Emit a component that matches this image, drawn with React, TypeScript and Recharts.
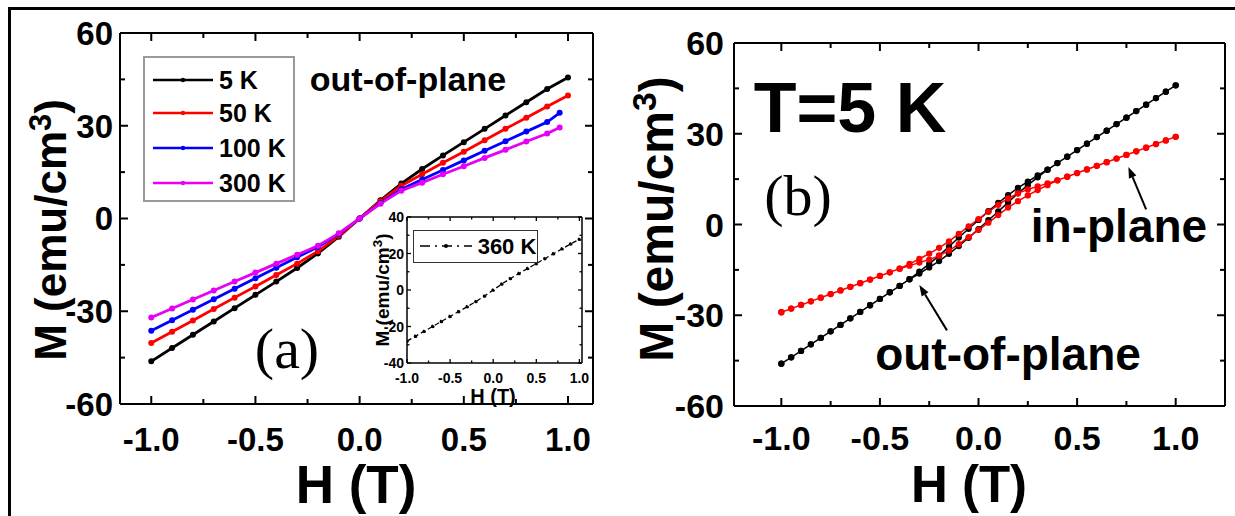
import React from "react";
import { LineChart, Line, XAxis, YAxis, ReferenceLine } from "recharts";

// ---- panel (a): out-of-plane M(H) at several temperatures ----
const fieldA = [-1.0, -0.9, -0.8, -0.7, -0.6, -0.5, -0.4, -0.3, -0.2, -0.1, 0, 0.1, 0.2, 0.3, 0.4, 0.5, 0.6, 0.7, 0.8, 0.9, 1.0];
const fieldAShort = [-1.0, -0.9, -0.8, -0.7, -0.6, -0.5, -0.4, -0.3, -0.2, -0.1, 0, 0.1, 0.2, 0.3, 0.4, 0.5, 0.6, 0.7, 0.8, 0.9, 0.96];
const m5K = [-46.2, -41.9, -37.6, -33.3, -29.0, -24.7, -20.4, -16.0, -11.3, -5.9, 0, 5.9, 11.3, 16.0, 20.4, 24.7, 29.0, 33.3, 37.6, 41.9, 45.6];
const m50K = [-40.3, -36.6, -33.0, -29.3, -25.6, -22.0, -18.3, -14.6, -10.6, -5.6, 0, 5.6, 10.6, 14.3, 18.0, 21.6, 25.3, 29.0, 32.6, 36.2, 39.8];
const m100K = [-36.3, -32.9, -29.5, -26.1, -22.7, -19.3, -15.9, -12.5, -9.2, -5.0, 0, 5.0, 9.5, 12.6, 15.7, 18.8, 21.9, 25.0, 28.1, 31.2, 34.2];
const m300K = [-32.0, -29.1, -26.2, -23.3, -20.4, -17.5, -14.6, -11.7, -8.8, -4.8, 0, 4.8, 9.0, 11.6, 14.3, 16.9, 19.6, 22.2, 24.9, 27.5, 29.4];
const tempsA = ["5 K", "50 K", "100 K", "300 K"];
const colorsA = ["#000000", "#ff0000", "#0000ff", "#e600f5"];

// inset: 360 K
const m360K = [-28.0, -25.3, -22.6, -19.9, -17.2, -14.5, -11.8, -9.1, -6.3, -3.3, 0, 3.3, 6.3, 9.1, 11.8, 14.5, 17.2, 19.9, 22.6, 25.3, 27.8];

// ---- panel (b): T = 5 K, out-of-plane vs in-plane loops ----
const fieldB = [-1.0, -0.95, -0.9, -0.85, -0.8, -0.75, -0.7, -0.65, -0.6, -0.55, -0.5, -0.45, -0.4, -0.35, -0.3, -0.25, -0.2, -0.15, -0.1, -0.05, 0, 0.05, 0.1, 0.15, 0.2, 0.25, 0.3, 0.35, 0.4, 0.45, 0.5, 0.55, 0.6, 0.65, 0.7, 0.75, 0.8, 0.85, 0.9, 0.95, 1.0];
const outDown = [-46.0, -43.9, -41.8, -39.6, -37.5, -35.3, -33.2, -31.0, -28.9, -26.7, -24.6, -22.4, -20.3, -18.1, -15.6, -13.0, -10.3, -7.3, -4.3, -1.4, 1.5, 4.4, 7.1, 9.7, 12.1, 14.2, 16.2, 18.1, 20.3, 22.4, 24.6, 26.7, 28.9, 31.0, 33.2, 35.3, 37.5, 39.6, 41.8, 43.9, 46.0];
const outUp = [-46.0, -43.9, -41.8, -39.6, -37.5, -35.3, -33.2, -31.0, -28.9, -26.7, -24.6, -22.4, -20.3, -18.1, -16.2, -14.2, -12.1, -9.7, -7.1, -4.4, -1.5, 1.4, 4.3, 7.3, 10.3, 13.0, 15.6, 18.1, 20.3, 22.4, 24.6, 26.7, 28.9, 31.0, 33.2, 35.3, 37.5, 39.6, 41.8, 43.9, 46.0];
const inDown = [-29.0, -27.8, -26.6, -25.4, -24.2, -23.0, -21.8, -20.6, -19.4, -18.2, -17.0, -15.8, -14.6, -13.0, -11.4, -9.6, -7.7, -5.6, -3.1, -0.6, 1.8, 4.2, 6.5, 8.6, 10.3, 11.6, 12.6, 13.6, 14.6, 15.8, 17.0, 18.2, 19.4, 20.6, 21.8, 23.0, 24.2, 25.4, 26.6, 27.8, 29.0];
const inUp = [-29.0, -27.8, -26.6, -25.4, -24.2, -23.0, -21.8, -20.6, -19.4, -18.2, -17.0, -15.8, -14.6, -13.6, -12.6, -11.6, -10.3, -8.6, -6.5, -4.2, -1.8, 0.6, 3.1, 5.6, 7.7, 9.6, 11.4, 13.0, 14.6, 15.8, 17.0, 18.2, 19.4, 20.6, 21.8, 23.0, 24.2, 25.4, 26.6, 27.8, 29.0];

// ticks
const xTicks = [-1, -0.75, -0.5, -0.25, 0, 0.25, 0.5, 0.75, 1];
const yTicks = [-60, -45, -30, -15, 0, 15, 30, 45, 60];
const yTicksInset = [-40, -30, -20, -10, 0, 10, 20, 30, 40];

const FONT = '"Liberation Sans", Arial, Helvetica, sans-serif';
const SERIF = '"Liberation Serif", "Times New Roman", serif';

const pts = (h: number[], m: number[]) => h.map((v, i) => ({ h: v, m: m[i] }));
const loop = (h: number[], down: number[], up: number[]) => [...pts(h, down).reverse(), ...pts(h, up)];

const seriesA = [m5K, m50K, m100K, m300K].map((m, i) => pts(i < 2 ? fieldA : fieldAShort, m));
const outLoop = loop(fieldB, outDown, outUp);
const inLoop = loop(fieldB, inDown, inUp);

const isHalf = (v: number) => Math.abs(v * 2 - Math.round(v * 2)) < 1e-9;

type Side = "bottom" | "top" | "left" | "right";
type TickOpts = {
  major: (v: number) => boolean;
  long: number;
  short: number;
  label?: (v: number) => string;
  size?: number;
  gap?: number;
  sw?: number;
};

function tick(side: Side, o: TickOpts) {
  return (props: any) => {
    const { x, y, payload } = props;
    const v = payload.value as number;
    const major = o.major(v);
    const len = major ? o.long : o.short;
    let x2 = x, y2 = y;
    if (side === "bottom") y2 = y - len;
    if (side === "top") y2 = y + len;
    if (side === "left") x2 = x + len;
    if (side === "right") x2 = x - len;
    const fs = o.size || 0;
    let text = null;
    if (major && o.label) {
      const gap = o.gap || 0;
      if (side === "bottom") {
        text = (
          <text x={x} y={y + gap + fs * 0.36} textAnchor="middle" fontSize={fs} fontWeight="bold" fontFamily={FONT} fill="#000">
            {o.label(v)}
          </text>
        );
      } else if (side === "left") {
        text = (
          <text x={x - gap} y={y + fs * 0.36} textAnchor="end" fontSize={fs} fontWeight="bold" fontFamily={FONT} fill="#000">
            {o.label(v)}
          </text>
        );
      }
    }
    return (
      <g>
        <line x1={x} y1={y} x2={x2} y2={y2} stroke="#000" strokeWidth={o.sw || 2} />
        {text}
      </g>
    );
  };
}

function Arrow(props: any) {
  const { x1, y1, x2, y2 } = props;
  const a = Math.atan2(y2 - y1, x2 - x1);
  const L = 11, W = 4;
  const bx = x2 - L * Math.cos(a), by = y2 - L * Math.sin(a);
  const nx = -Math.sin(a) * W, ny = Math.cos(a) * W;
  return (
    <g>
      <line x1={x1} y1={y1} x2={bx} y2={by} stroke="#000" strokeWidth={2} />
      <polygon points={`${x2},${y2} ${bx + nx},${by + ny} ${bx - nx},${by - ny}`} fill="#000" />
    </g>
  );
}

function Txt({ x, y, size, children, serif, rotate, weight }: any) {
  return (
    <div
      style={{
        position: "absolute",
        left: x,
        top: y,
        transform: `translate(-50%, -50%)${rotate ? ` rotate(${rotate}deg)` : ""}`,
        fontFamily: serif ? SERIF : FONT,
        fontWeight: weight || (serif ? "normal" : "bold"),
        fontSize: size,
        lineHeight: 0.9,
        whiteSpace: "nowrap",
        color: "#000",
      }}
    >
      {children}
    </div>
  );
}

function MTitle() {
  return (
    <span>
      M{"\u00a0"}(emu/cm<sup style={{ fontSize: "0.7em", lineHeight: 0 }}>3</sup>)
    </span>
  );
}

const axisLine = { stroke: "#000", strokeWidth: 2 };
const fmtX = (v: number) => v.toFixed(1);
const fmtY = (v: number) => String(v);

export default function App() {
  return (
    <div style={{ position: "absolute", left: 0, top: 0, width: 1235, height: 516, background: "#fff", overflow: "hidden" }}>
      {/* frame */}
      <div style={{ position: "absolute", left: 8, top: 7, width: 1227, height: 509, borderTop: "3px solid #000", borderLeft: "3px solid #000" }} />

      {/* panel (a) */}
      <div style={{ position: "absolute", left: 0, top: 0 }}>
        <LineChart width={620} height={516} margin={{ top: 32, right: 0, bottom: 0, left: 0 }}>
          <XAxis xAxisId="x" type="number" dataKey="h" domain={[-1.15, 1.12]} allowDataOverflow ticks={xTicks} interval={0}
            tickSize={0} tickMargin={0} height={112} axisLine={axisLine} tickLine={false}
            tick={tick("bottom", { major: isHalf, long: 8, short: 5, label: fmtX, size: 33, gap: 35 })} />
          <XAxis xAxisId="xt" orientation="top" type="number" dataKey="h" domain={[-1.15, 1.12]} allowDataOverflow ticks={xTicks} interval={0}
            tickSize={0} tickMargin={0} height={1} axisLine={axisLine} tickLine={false}
            tick={tick("top", { major: isHalf, long: 8, short: 5 })} />
          <YAxis yAxisId="y" type="number" domain={[-60, 60]} allowDataOverflow ticks={yTicks} interval={0}
            tickSize={0} tickMargin={0} width={120} axisLine={axisLine} tickLine={false}
            tick={tick("left", { major: (v) => v % 30 === 0, long: 8, short: 5, label: fmtY, size: 33, gap: 7 })} />
          <YAxis yAxisId="yr" orientation="right" type="number" domain={[-60, 60]} allowDataOverflow ticks={yTicks} interval={0}
            tickSize={0} tickMargin={0} width={27} axisLine={axisLine} tickLine={false}
            tick={tick("right", { major: (v) => v % 30 === 0, long: 8, short: 5 })} />
          {seriesA.map((d, i) => (
            <Line key={tempsA[i]} xAxisId="x" yAxisId="y" data={d} dataKey="m" name={tempsA[i]} type="linear"
              stroke={colorsA[i]} strokeWidth={2.8} dot={{ r: 1.6, fill: colorsA[i], stroke: colorsA[i] }} isAnimationActive={false} />
          ))}
        </LineChart>
      </div>

      {/* legend (a) */}
      <div style={{ position: "absolute", left: 143, top: 56, width: 148, height: 142, border: "2px solid #9a9a9a" }} />
      {tempsA.map((t, i) => (
        <div key={t} style={{ position: "absolute", left: 150, top: [80, 113, 148, 183][i] - 14, height: 28, display: "flex", alignItems: "center" }}>
          <svg width={66} height={28}>
            <line x1={3} y1={14} x2={63} y2={14} stroke={colorsA[i]} strokeWidth={2.5} />
            <circle cx={33} cy={14} r={2.2} fill={colorsA[i]} />
          </svg>
          <span style={{ fontFamily: FONT, fontWeight: "bold", fontSize: 25, marginLeft: 3 }}>{t}</span>
        </div>
      ))}

      {/* inset */}
      <div style={{ position: "absolute", left: 360, top: 205 }}>
        <LineChart width={230} height={200} margin={{ top: 11, right: 0, bottom: 0, left: 0 }}>
          <XAxis xAxisId="x" type="number" dataKey="h" domain={[-1, 1.03]} allowDataOverflow ticks={xTicks} interval={0}
            tickSize={0} tickMargin={0} height={42} axisLine={{ stroke: "#000", strokeWidth: 1.5 }} tickLine={false}
            tick={tick("bottom", { major: isHalf, long: 4, short: 2.5, label: fmtX, size: 14, gap: 15, sw: 1.3 })} />
          <XAxis xAxisId="xt" orientation="top" type="number" dataKey="h" domain={[-1, 1.03]} allowDataOverflow ticks={xTicks} interval={0}
            tickSize={0} tickMargin={0} height={1} axisLine={{ stroke: "#000", strokeWidth: 1.5 }} tickLine={false}
            tick={tick("top", { major: isHalf, long: 4, short: 2.5, sw: 1.3 })} />
          <YAxis yAxisId="y" type="number" domain={[-40, 40]} allowDataOverflow ticks={yTicksInset} interval={0}
            tickSize={0} tickMargin={0} width={47} axisLine={{ stroke: "#000", strokeWidth: 1.5 }} tickLine={false}
            tick={tick("left", { major: (v) => v % 20 === 0, long: 4, short: 2.5, label: fmtY, size: 14, gap: 3, sw: 1.3 })} />
          <YAxis yAxisId="yr" orientation="right" type="number" domain={[-40, 40]} allowDataOverflow ticks={yTicksInset} interval={0}
            tickSize={0} tickMargin={0} width={8} axisLine={{ stroke: "#000", strokeWidth: 1.5 }} tickLine={false}
            tick={tick("right", { major: (v) => v % 20 === 0, long: 4, short: 2.5, sw: 1.3 })} />
          <Line xAxisId="x" yAxisId="y" data={pts(fieldA, m360K)} dataKey="m" name="360 K" type="linear"
            stroke="#000" strokeWidth={1.3} strokeDasharray="5 3" dot={{ r: 1.2, fill: "#000", stroke: "#000" }} isAnimationActive={false} />
        </LineChart>
      </div>
      <div style={{ position: "absolute", left: 413, top: 230, width: 123, height: 31, border: "1.5px solid #333" }} />
      <svg style={{ position: "absolute", left: 418, top: 236 }} width={56} height={20}>
        <line x1={2} y1={10} x2={54} y2={10} stroke="#000" strokeWidth={1.3} strokeDasharray="10 5 2 5" />
        <circle cx={28} cy={10} r={2} fill="#000" />
      </svg>
      <Txt x={507} y={247} size={22}>360 K</Txt>
      <Txt x={493} y={396} size={20}>H (T)</Txt>
      <Txt x={383} y={290} size={19} rotate={-90}><MTitle /></Txt>

      <Txt x={408} y={79} size={34}>out-of-plane</Txt>
      <Txt x={287} y={349} size={58} serif>(a)</Txt>
      <Txt x={356} y={485} size={53}>H (T)</Txt>
      <Txt x={51} y={230} size={44} rotate={-90}><MTitle /></Txt>

      {/* panel (b) */}
      <div style={{ position: "absolute", left: 620, top: 0 }}>
        <LineChart width={615} height={516} margin={{ top: 42, right: 0, bottom: 0, left: 0 }}>
          <XAxis xAxisId="x" type="number" dataKey="h" domain={[-1.24, 1.25]} allowDataOverflow ticks={xTicks} interval={0}
            tickSize={0} tickMargin={0} height={110} axisLine={axisLine} tickLine={false}
            tick={tick("bottom", { major: isHalf, long: 8, short: 5, label: fmtX, size: 34, gap: 32 })} />
          <XAxis xAxisId="xt" orientation="top" type="number" dataKey="h" domain={[-1.24, 1.25]} allowDataOverflow ticks={xTicks} interval={0}
            tickSize={0} tickMargin={0} height={1} axisLine={axisLine} tickLine={false}
            tick={tick("top", { major: isHalf, long: 8, short: 5 })} />
          <YAxis yAxisId="y" type="number" domain={[-60, 60]} allowDataOverflow ticks={yTicks} interval={0}
            tickSize={0} tickMargin={0} width={114} axisLine={axisLine} tickLine={false}
            tick={tick("left", { major: (v) => v % 30 === 0, long: 8, short: 5, label: fmtY, size: 34, gap: 10 })} />
          <YAxis yAxisId="yr" orientation="right" type="number" domain={[-60, 60]} allowDataOverflow ticks={yTicks} interval={0}
            tickSize={0} tickMargin={0} width={10} axisLine={axisLine} tickLine={false}
            tick={tick("right", { major: (v) => v % 30 === 0, long: 8, short: 5 })} />
          <Line xAxisId="x" yAxisId="y" data={outLoop} dataKey="m" name="out-of-plane" type="linear"
            stroke="#000" strokeWidth={1.5} dot={{ r: 2.4, fill: "#000", stroke: "#000" }} isAnimationActive={false} />
          <Line xAxisId="x" yAxisId="y" data={inLoop} dataKey="m" name="in-plane" type="linear"
            stroke="#ff0000" strokeWidth={1.5} dot={{ r: 2.4, fill: "#ff0000", stroke: "#ff0000" }} isAnimationActive={false} />
          <ReferenceLine xAxisId="x" yAxisId="y" segment={[{ x: 0.85, y: 5 }, { x: 0.76, y: 19 }]} ifOverflow="visible" shape={Arrow} />
          <ReferenceLine xAxisId="x" yAxisId="y" segment={[{ x: -0.16, y: -35 }, { x: -0.3, y: -20 }]} ifOverflow="visible" shape={Arrow} />
        </LineChart>
      </div>

      <Txt x={850} y={108} size={70}>T=5 K</Txt>
      <Txt x={798} y={196} size={58} serif>(b)</Txt>
      <Txt x={1119} y={227} size={46}>in-plane</Txt>
      <Txt x={1008} y={355} size={46}>out-of-plane</Txt>
      <Txt x={969} y={485} size={51}>H (T)</Txt>
      <Txt x={657} y={219} size={48} rotate={-90}><MTitle /></Txt>
    </div>
  );
}
